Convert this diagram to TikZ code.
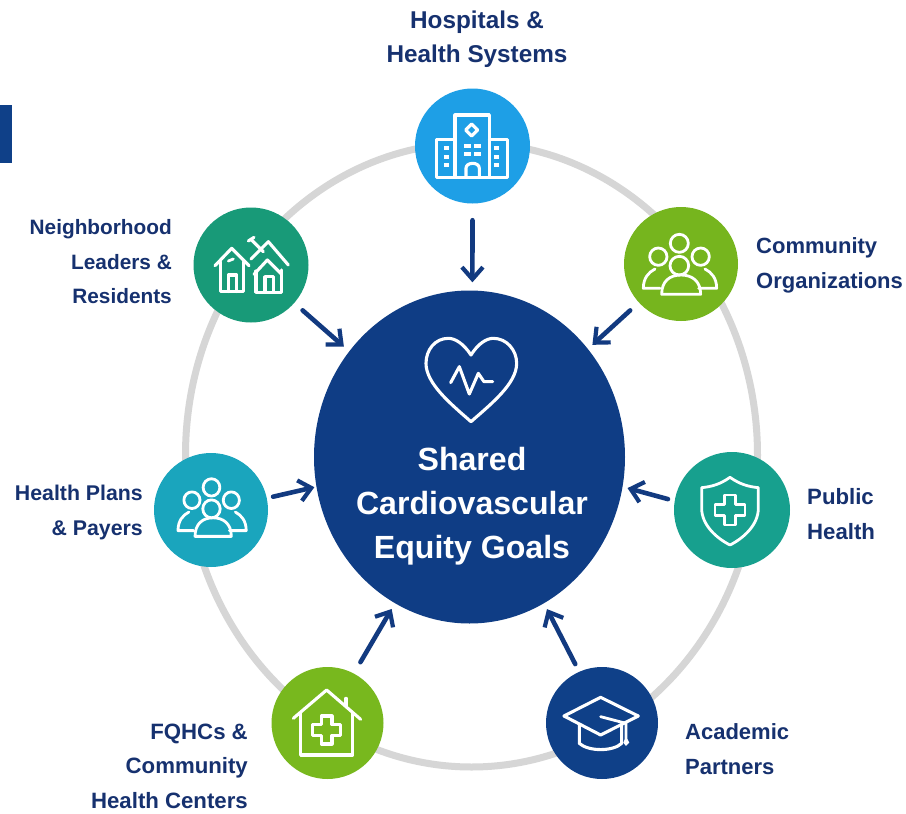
\documentclass[tikz,border=0pt]{standalone}
\usepackage{fontspec}
\setmainfont{Liberation Sans}
\usetikzlibrary{arrows.meta,shapes.geometric}
\definecolor{navy}{HTML}{123A80}
\definecolor{labelnavy}{HTML}{16316F}
\definecolor{ringgrey}{HTML}{D6D6D6}
\definecolor{corenavy}{HTML}{0F3D85}
\definecolor{hospblue}{HTML}{1E9FE6}
\definecolor{neighgreen}{HTML}{189A78}
\definecolor{commgreen}{HTML}{76B51E}
\definecolor{planteal}{HTML}{1AA5BD}
\definecolor{pubteal}{HTML}{17A08E}
\definecolor{qhcgreen}{HTML}{78B81E}
\definecolor{acadnavy}{HTML}{0F4088}
\tikzset{
  x=1pt,y=-1pt,
  hub/.style={circle,inner sep=0pt,minimum size=#1},
  lab/.style={text=labelnavy,font=\fontsize{#1}{34.5}\selectfont\bfseries,inner sep=0pt},
  flow/.style={draw=navy,line width=4.6pt,line cap=round,-{Straight Barb[length=12pt,width=21pt,line width=4.2pt]}},
  icon/.style={draw=white,line width=3.1pt,line join=round,line cap=round},
  thin icon/.style={draw=white,line width=2.8pt,line join=round,line cap=round},
}
\newcommand{\peopleicon}{%
  \draw[thin icon] (208,145) circle (27);
  \draw[thin icon] (145,185) circle (26);
  \draw[thin icon] (272,185) circle (26);
  \draw[thin icon] (208,212) circle (28);
  \draw[thin icon] (155,298) .. controls (155,258) and (180,240) .. (213,240) .. controls (246,240) and (272,258) .. (272,298) -- cycle;
  \draw[thin icon] (150,280) -- (100,280) .. controls (100,250) and (115,232) .. (135,222);
  \draw[thin icon] (266,280) -- (320,280) .. controls (320,250) and (305,232) .. (285,222);
}
\begin{document}
\begin{tikzpicture}
\useasboundingbox (0,0) rectangle (906,814);
\fill[white] (0,0) rectangle (906,814);
\fill[acadnavy] (0,105) rectangle (11.5,163);
\draw[ringgrey,line width=7pt] (471.5,455) ellipse [x radius=286,y radius=312];

\node[ellipse,inner sep=0pt,minimum width=311pt,minimum height=333pt,fill=corenavy] (core) at (469.5,457) {};
\node[hub=115pt,fill=hospblue] (hosp) at (472.5,146) {};
\node[hub=115pt,fill=neighgreen] (neigh) at (251,265) {};
\node[hub=114pt,fill=commgreen] (comm) at (681,264) {};
\node[hub=114pt,fill=planteal] (plans) at (211,510) {};
\node[hub=116pt,fill=pubteal] (pub) at (732,510) {};
\node[hub=112pt,fill=qhcgreen] (fqhc) at (327.5,723) {};
\node[hub=112pt,fill=acadnavy] (acad) at (602,723) {};

\draw[flow,shorten <=16.5pt,shorten >=8pt] (hosp.south) -- (core.89);
\draw[flow,shorten <=11pt,shorten >=7pt] (neigh) -- (core);
\draw[flow,shorten <=11.6pt,shorten >=6pt] (comm) -- (core);
\draw[flow,shorten <=6.3pt,shorten >=2pt] (plans.12) -- (core.191);
\draw[flow,shorten <=6.8pt,shorten >=5pt] (pub.171) -- (core.-11.8);
\draw[flow,shorten <=13pt,shorten >=6.5pt] (fqhc.62) -- (core.243);
\draw[flow,shorten <=8.5pt,shorten >=6.5pt] (acad.114) -- (core.-63);

\node[lab=24.3,align=center] (hospl) at (477,39) {Hospitals \&\\Health Systems};
\node[lab=20.8,align=right,anchor=east] (neighl) at (172,262) {Neighborhood\\Leaders \&\\Residents};
\node[lab=22,align=left,anchor=west] (comml) at (756,265.5) {Community\\Organizations};
\node[lab=21.3,align=right,anchor=east] (plansl) at (143,512.5) {Health Plans\\\& Payers};
\node[lab=22.2,align=left,anchor=west] (publ) at (807,514) {Public\\Health};
\node[lab=22.2,align=right,anchor=east] (fqhcl) at (248,766) {FQHCs \&\\Community\\Health Centers};
\node[lab=22,align=left,anchor=west] (acadl) at (685,749) {Academic\\Partners};
\node[text=white,font=\fontsize{32.1}{44}\selectfont\bfseries,align=center,inner sep=0pt] (corel) at (472,506.5) {Shared\\Cardiovascular\\Equity Goals};

% hospital icon
\begin{scope}[shift={(380,70)},x=.3333pt,y=-.3333pt]
  \draw[icon] (225,322) -- (225,135) -- (328,135) -- (328,322);
  \draw[icon] (225,208) -- (170,208) -- (170,322) -- (382,322) -- (382,208) -- (328,208);
  \draw[icon] (258,322) -- (258,295) .. controls (258,275) and (298,275) .. (298,295) -- (298,322);
  \draw[icon] (275,162) -- (293,180) -- (275,198) -- (257,180) -- cycle;
  \foreach \px in {200,350}{\foreach \py in {235,260,285}{\fill[white] (\px-7,\py-6) rectangle (\px+7,\py+6);}}
  \foreach \px in {262,292}{\foreach \py in {228,252}{\fill[white] (\px-11,\py-5) rectangle (\px+11,\py+5);}}
\end{scope}

% neighborhood icon
\begin{scope}[shift={(180,195)},x=.3333pt,y=-.3333pt]
  \draw[icon] (105,212) -- (155,160) -- (207,212);
  \draw[icon] (122,200) -- (122,290) -- (190,290) -- (190,200);
  \draw[icon] (145,290) -- (145,240) -- (170,240) -- (170,290);
  \draw[thin icon] (145,198) -- (160,192);
  \draw[icon] (213,192) -- (265,140) -- (325,210);
  \draw[icon] (222,238) -- (262,195) -- (305,238);
  \draw[icon] (228,228) -- (228,292) -- (305,292) -- (305,225);
  \draw[icon] (255,292) -- (255,245) -- (280,245) -- (280,292);
  \draw[icon] (205,138) -- (222,127);
  \draw[icon] (213,133) -- (250,170);
\end{scope}

% community icon
\begin{scope}[shift={(610,195)},x=.3333pt,y=-.3333pt]
  \peopleicon
\end{scope}

% plans icon
\begin{scope}[shift={(147,441)},x=.31pt,y=-.32pt]
  \peopleicon
\end{scope}

% shield icon
\begin{scope}[shift={(660,445)},x=.3333pt,y=-.3333pt]
  \draw[thin icon] (210,97) .. controls (180,118) and (155,125) .. (125,128) -- (125,190) .. controls (125,240) and (170,280) .. (210,300) .. controls (250,280) and (295,240) .. (295,190) -- (295,128) .. controls (265,125) and (240,118) .. (210,97) -- cycle;
  \draw[thin icon] (193,150) -- (227,150) -- (227,178) -- (255,178) -- (255,212) -- (227,212) -- (227,240) -- (193,240) -- (193,212) -- (165,212) -- (165,178) -- (193,178) -- cycle;
\end{scope}

% heart icon
\begin{scope}[shift={(400,320)},x=.3333pt,y=-.3333pt]
  \draw[icon] (213,105) .. controls (190,70) and (165,55) .. (145,55) .. controls (105,55) and (78,90) .. (78,130) .. controls (78,190) and (150,250) .. (213,305) .. controls (276,250) and (350,190) .. (350,130) .. controls (350,90) and (320,55) .. (280,55) .. controls (260,55) and (235,70) .. (213,105) -- cycle;
  \draw[icon] (152,188) -- (178,140) -- (208,222) -- (235,160) -- (252,185) -- (278,185);
\end{scope}

% clinic icon
\begin{scope}[shift={(260,660)},x=.3333pt,y=-.3333pt]
  \draw[icon] (100,175) -- (200,90) -- (302,178);
  \draw[icon] (258,138) -- (258,115);
  \draw[icon] (122,160) -- (122,285) -- (278,285) -- (278,160);
  \draw[icon] (184,168) -- (216,168) -- (216,194) -- (242,194) -- (242,226) -- (216,226) -- (216,252) -- (184,252) -- (184,226) -- (158,226) -- (158,194) -- (184,194) -- cycle;
\end{scope}

% cap icon
\begin{scope}[shift={(260,660)},x=.3333pt,y=-.3333pt]
  \draw[icon] (912,168) -- (1022,112) -- (1135,168) -- (1022,225) -- cycle;
  \draw[icon] (958,195) -- (958,250) .. controls (985,275) and (1060,275) .. (1085,250) -- (1085,195);
  \draw[thin icon] (1022,170) -- (1098,190) -- (1098,235);
  \fill[white] (1098,228) -- (1108,248) -- (1098,258) -- (1090,248) -- cycle;
\end{scope}
\end{tikzpicture}
\end{document}
